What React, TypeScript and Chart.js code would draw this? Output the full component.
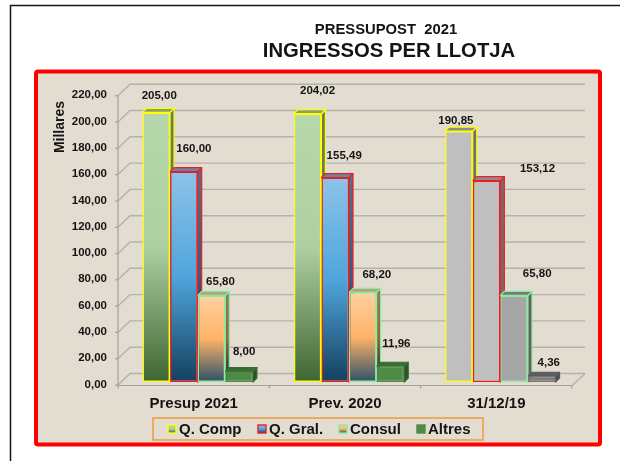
import React, { useEffect, useRef } from "react";
import { Chart, registerables } from "chart.js";

Chart.register(...registerables);

const categories = ["Presup 2021", "Prev. 2020", "31/12/19"];
const seriesNames = ["Q. Comp", "Q. Gral.", "Consul", "Altres"];
const qComp = [205, 204.02, 190.85];
const qGral = [160, 155.49, 153.12];
const consul = [65.8, 68.2, 65.8];
const altres = [8, 11.96, 4.36];
const titleTop = "PRESSUPOST  2021";
const titleMain = "INGRESSOS PER LLOTJA";
const axisTitle = "Millares";

const FONT = '"Liberation Sans", Arial, sans-serif';
const INK = "#141414";
const DEPTH = 4;

const borderColors = ["#FFFF00", "#EE1C25", "#86EE9E", "#4F8A47"];
const grayBorders = ["#FFFF00", "#EE1C25", "#86EE9E", "#777777"];
const gradients = [
  ["#B6D8AA", "#AECFA2", "#3F6631"],
  ["#8CC3E9", "#4FA5DC", "#14405E"],
  ["#FFD09E", "#FFB368", "#2E5068"],
  ["#4F8A47", "#4F8A47", "#4F8A47"],
];
const grays = ["#BFBFBF", "#BFBFBF", "#A6A6A6", "#7F7F7F"];
const topColors = ["#8A9F78", "#64889F", "#BC9F7C", "#3A6B33"];
const grayTops = ["#8C8C8C", "#8C8C8C", "#787878", "#5C5C5C"];

// label displacement from the bar's top centre: [dx, dy] per series, per category
const labelShift = [
  [[3, -17], [10, -23], [9, -13.5], [5, -19.5]],
  [[10, -23], [9, -22], [14, -17], [6, -22]],
  [[-3, -10], [51, -12], [23, -22], [7, -13]],
];

function fmt(v: number) {
  return v.toFixed(2).replace(".", ",");
}

function fillFor(ctx: CanvasRenderingContext2D, s: number, c: number, top: number, bottom: number) {
  if (c === 2 || !Number.isFinite(top) || !Number.isFinite(bottom)) return grays[s];
  const g = ctx.createLinearGradient(0, top, 0, bottom);
  const [a, b, d] = gradients[s];
  g.addColorStop(0, a);
  g.addColorStop(0.5, b);
  g.addColorStop(1, d);
  return g;
}

const overlayPlugin = {
  id: "overlay",
  beforeDraw(chart: any) {
    const { ctx, scales } = chart;
    const x = scales.x;
    const y = scales.y;
    ctx.save();
    ctx.fillStyle = "#FFFFFF";
    ctx.fillRect(0, 0, 620, 461);
    // outer page frame
    ctx.strokeStyle = "#151515";
    ctx.lineWidth = 1.5;
    ctx.beginPath();
    ctx.moveTo(620, 5.5);
    ctx.lineTo(10.5, 5.5);
    ctx.lineTo(10.5, 461);
    ctx.stroke();
    // panel
    ctx.fillStyle = "#E3DDD1";
    ctx.strokeStyle = "#FF0000";
    ctx.lineWidth = 4;
    ctx.beginPath();
    ctx.roundRect(36, 71.5, 564, 373, 2);
    ctx.fill();
    ctx.stroke();
    // titles
    ctx.fillStyle = INK;
    ctx.textAlign = "center";
    ctx.textBaseline = "middle";
    ctx.font = `bold 14.8px ${FONT}`;
    ctx.fillText(titleTop, 386, 30);
    ctx.font = `bold 20.3px ${FONT}`;
    ctx.fillText(titleMain, 389, 51);
    // axis title
    ctx.save();
    ctx.translate(60, 127);
    ctx.rotate(-Math.PI / 2);
    ctx.font = `bold 14px ${FONT}`;
    ctx.fillText(axisTitle, 0, 0);
    ctx.restore();
    // 3D walls, taken from the scales
    const fx = x.left - 4;
    const fr = x.right - 4;
    const shiftY = 3;
    const wallX = 12;
    const wallY = 11.5;
    ctx.strokeStyle = "#B5B2A8";
    ctx.lineWidth = 1.4;
    for (const t of y.ticks) {
      const py = y.getPixelForValue(t.value) + shiftY;
      ctx.beginPath();
      ctx.moveTo(fx, py);
      ctx.lineTo(fx + wallX, py - wallY);
      ctx.lineTo(fr + wallX + 1, py - wallY);
      ctx.stroke();
    }
    const base = y.getPixelForValue(0) + shiftY + 0.5;
    ctx.beginPath();
    ctx.moveTo(fr, base);
    ctx.lineTo(fr + wallX + 1, base - wallY);
    ctx.stroke();
    ctx.strokeStyle = "#A3A198";
    ctx.lineWidth = 1.2;
    ctx.beginPath();
    ctx.moveTo(fx, y.getPixelForValue(220) + shiftY);
    ctx.lineTo(fx, base);
    ctx.lineTo(fr, base);
    ctx.stroke();
    for (const t of y.ticks) {
      const py = y.getPixelForValue(t.value) + shiftY;
      ctx.beginPath();
      ctx.moveTo(fx - 3, py);
      ctx.lineTo(fx, py);
      ctx.stroke();
    }
    const step = (fr - fx) / categories.length;
    for (let i = 0; i <= categories.length; i++) {
      ctx.beginPath();
      ctx.moveTo(fx + step * i, base);
      ctx.lineTo(fx + step * i, base + 3);
      ctx.stroke();
    }
    ctx.restore();
  },
  beforeDatasetsDraw(chart: any) {
    // depth faces go under every front face, left to right, so each bar hides its neighbour's side
    const { ctx } = chart;
    ctx.save();
    ctx.lineJoin = "round";
    chart.data.datasets.forEach((_: any, s: number) => {
      chart.getDatasetMeta(s).data.forEach((bar: any, c: number) => {
        const { x, y, base, width } = bar.getProps(["x", "y", "base", "width"], true);
        const l = x - width / 2;
        const r = x + width / 2;
        const topFill = c === 2 ? grayTops[s] : topColors[s];
        ctx.lineWidth = 1.2;
        ctx.strokeStyle = s === 3 ? topFill : c === 2 ? grayBorders[s] : borderColors[s];
        // side face: the front fill, darkened
        ctx.beginPath();
        ctx.moveTo(r, y);
        ctx.lineTo(r + DEPTH, y - DEPTH);
        ctx.lineTo(r + DEPTH, base - DEPTH);
        ctx.lineTo(r, base);
        ctx.closePath();
        ctx.fillStyle = fillFor(ctx, s, c, y, base);
        ctx.fill();
        ctx.fillStyle = "rgba(0,0,0,0.42)";
        ctx.fill();
        ctx.stroke();
        // top face
        ctx.beginPath();
        ctx.moveTo(l, y);
        ctx.lineTo(l + DEPTH, y - DEPTH);
        ctx.lineTo(r + DEPTH, y - DEPTH);
        ctx.lineTo(r, y);
        ctx.closePath();
        ctx.fillStyle = topFill;
        ctx.fill();
        ctx.stroke();
      });
    });
    ctx.restore();
  },
  afterDatasetsDraw(chart: any) {
    const { ctx } = chart;
    ctx.save();
    ctx.fillStyle = INK;
    ctx.textAlign = "center";
    ctx.textBaseline = "middle";
    ctx.font = `bold 11.5px ${FONT}`;
    chart.data.datasets.forEach((ds: any, s: number) => {
      chart.getDatasetMeta(s).data.forEach((bar: any, c: number) => {
        const [dx, dy] = labelShift[c][s];
        ctx.fillText(fmt(ds.data[c]), bar.x + dx, bar.y + dy);
      });
    });
    // legend
    ctx.strokeStyle = "#F09A3E";
    ctx.lineWidth = 1.5;
    ctx.strokeRect(153, 418, 330, 22);
    const swatchX = [168, 258, 339, 417];
    ctx.textAlign = "left";
    ctx.font = `bold 15px ${FONT}`;
    seriesNames.forEach((name, s) => {
      const sx = swatchX[s];
      ctx.fillStyle = fillFor(ctx, s, 0, 425, 433);
      ctx.fillRect(sx, 425, 8, 8);
      ctx.strokeStyle = borderColors[s];
      ctx.lineWidth = 1.4;
      ctx.strokeRect(sx, 425, 8, 8);
      ctx.fillStyle = INK;
      ctx.fillText(name, sx + 11, 429.5);
    });
    ctx.restore();
  },
};

const seriesValues = [qComp, qGral, consul, altres];

export default function App() {
  const ref = useRef<HTMLCanvasElement>(null);
  useEffect(() => {
    const chart = new Chart(ref.current!, {
      type: "bar",
      data: {
        labels: categories,
        datasets: seriesValues.map((data, s) => ({
          label: seriesNames[s],
          data,
          borderWidth: 1.5,
          borderSkipped: false,
          barPercentage: 1,
          categoryPercentage: 0.73,
          borderColor: (c: any) => (c.dataIndex === 2 ? grayBorders[s] : borderColors[s]),
          backgroundColor: (c: any) => {
            const yScale = c.chart.scales.y;
            if (!yScale || c.raw === undefined) return grays[s];
            return fillFor(c.chart.ctx, s, c.dataIndex, yScale.getPixelForValue(c.raw), yScale.getPixelForValue(0));
          },
        })),
      },
      options: {
        responsive: false,
        animation: false,
        layout: { padding: { top: 92.7, right: 44, bottom: 0, left: 0 } },
        plugins: { legend: { display: false }, title: { display: false }, tooltip: { enabled: false } },
        scales: {
          x: {
            grid: { display: false },
            border: { display: false },
            afterFit: (s: any) => { s.height = 461 - 382; },
            ticks: {
              labelOffset: -4,
              padding: 5,
              maxRotation: 0,
              color: INK,
              font: { family: FONT, size: 15, weight: "bold" },
            },
          },
          y: {
            min: 0,
            max: 220,
            grid: { display: false, drawTicks: false },
            border: { display: false },
            afterFit: (s: any) => { s.width = 122; },
            ticks: {
              stepSize: 20,
              padding: 15,
              labelOffset: 2.5,
              color: INK,
              font: { family: FONT, size: 11.5, weight: "bold" },
              callback: (v: any) => fmt(Number(v)),
            },
          },
        },
      },
      plugins: [overlayPlugin],
    } as any);
    return () => chart.destroy();
  }, []);
  return (
    <div>
      <canvas ref={ref} width={620} height={461} style={{ position: "absolute", left: 0, top: 0, display: "block" }} />
    </div>
  );
}
